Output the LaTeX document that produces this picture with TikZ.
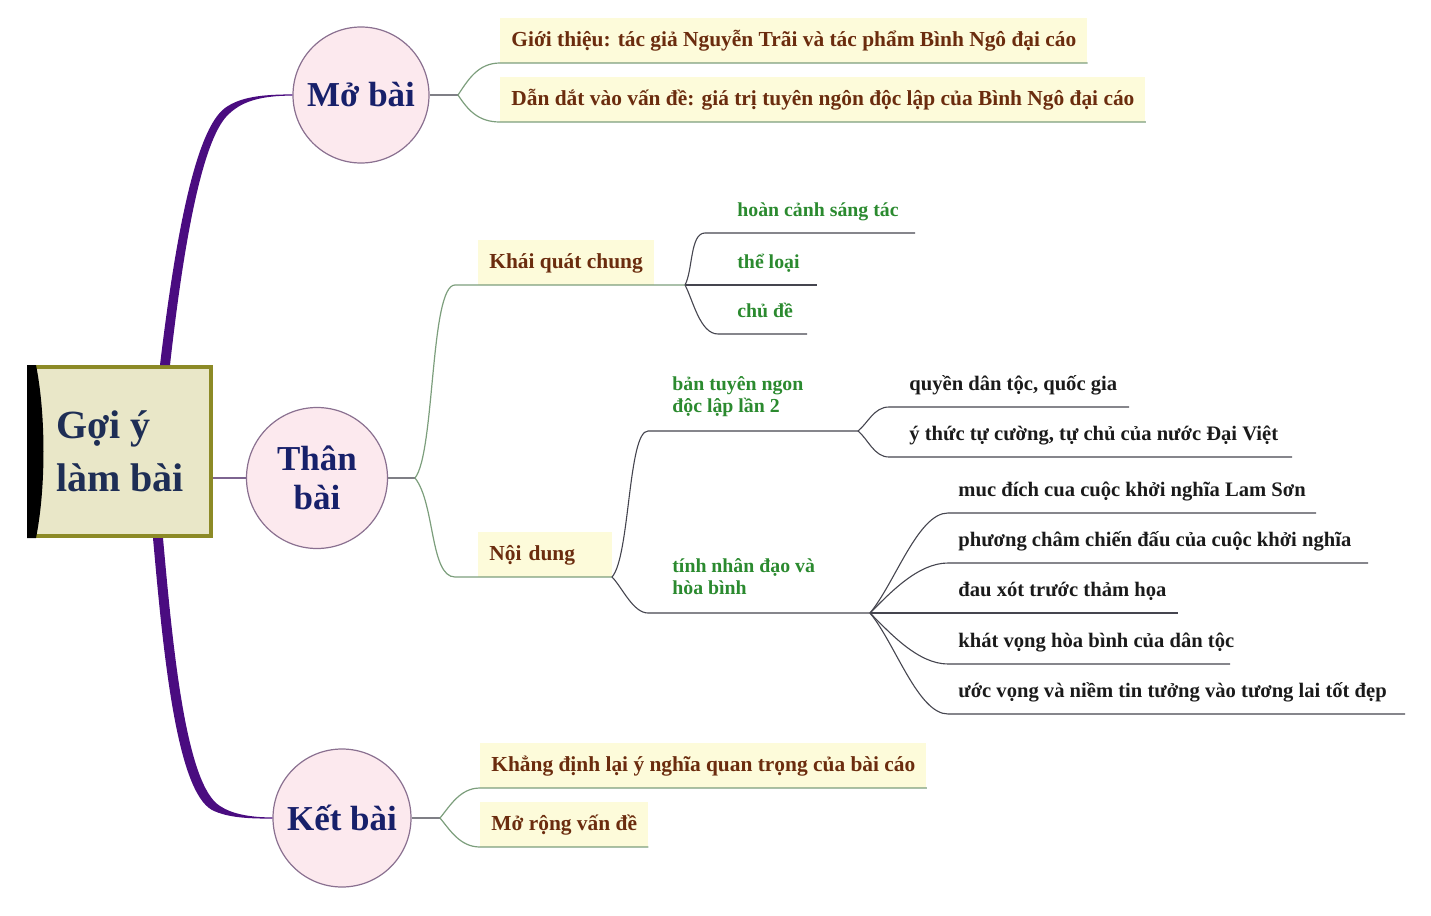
\documentclass[tikz,border=0pt]{standalone}
\usepackage{fontspec}
\setmainfont{Liberation Serif}
\usepackage{tikz}

\definecolor{navy}{HTML}{17206A}
\definecolor{slate}{HTML}{1E2E55}
\definecolor{brownish}{HTML}{6B2C0E}
\definecolor{leafgreen}{HTML}{2B8A2F}
\definecolor{leafblack}{HTML}{1A1A1A}
\definecolor{trunkcol}{HTML}{4A0C80}
\definecolor{pinkfill}{HTML}{FCE9EE}
\definecolor{ringcol}{HTML}{8A7090}
\definecolor{boxfill}{HTML}{FDFBDA}
\definecolor{rootfill}{HTML}{E9E7C8}
\definecolor{rootline}{HTML}{8C8A26}
\definecolor{stubcol}{HTML}{7F7F86}
\definecolor{rootstub}{HTML}{7D6490}
\definecolor{branchcol}{HTML}{7C9E7C}
\definecolor{twigcol}{HTML}{45454F}

\begin{document}
\begin{tikzpicture}
  [x=0.5pt,y=-0.5pt,every node/.style={font=\bfseries}]

  \tikzstyle{part}    = [circle,draw=ringcol,line width=0.6pt,fill=pinkfill,text=navy,align=center,
                         inner sep=0pt,font=\bfseries\fontsize{17.5}{19.5}\selectfont]
  \tikzstyle{gold}    = [anchor=south west,fill=boxfill,inner xsep=5.5pt,inner ysep=0pt,
                         text height=14.5pt,text depth=8pt,text=brownish,
                         font=\bfseries\fontsize{10.7}{12}\selectfont]
  \tikzstyle{leaf}    = [anchor=south west,inner xsep=5pt,inner ysep=0pt,text height=8pt,
                         text depth=8pt,text=leafblack,font=\bfseries\fontsize{10.3}{11}\selectfont]
  \tikzstyle{sprout}  = [leaf,text=leafgreen,font=\bfseries\fontsize{9.9}{11}\selectfont]
  \tikzstyle{sprouts} = [anchor=south west,inner xsep=12pt,inner ysep=5.7pt,align=left,
                         text=leafgreen,font=\bfseries\fontsize{9.9}{11}\selectfont]
  \tikzstyle{stub}    = [draw=stubcol,line width=0.6pt]
  \tikzstyle{branch}  = [draw=branchcol,line width=0.6pt]
  \tikzstyle{twig}    = [draw=twigcol,line width=0.55pt]

  \useasboundingbox (0,0) rectangle (1431,916);

  % centre and the three parts
  \node[draw=rootline,line width=2pt,fill=rootfill,minimum width=91pt,minimum height=84.5pt,
        align=left,text=slate,font=\bfseries\fontsize{20}{26.5}\selectfont]
        (root) at (120,451.5) {Gợi ý\\làm bài};
  \fill (root.north west) -- ([xshift=4.5pt]root.north west)
        .. controls +(5pt,-25pt) and +(5pt,25pt) .. ([xshift=4.5pt]root.south west)
        -- (root.south west) -- cycle;

  \node[part,minimum size=68pt]   (mb) at (361,95)  {Mở bài};
  \node[part,minimum size=70.5pt] (tb) at (317,478) {Thân\\bài};
  \node[part,minimum size=69pt]   (kb) at (342,818) {Kết bài};

  % purple trunk
  \fill[trunkcol] ([xshift=20pt]root.north) .. controls (175,240) and (195,130) .. (225,108)
        .. controls (240,97) and (262,94.4) .. ([yshift=0.3pt]mb.west)
        -- ([yshift=-0.3pt]mb.west) .. controls (262,95.6) and (243,101) .. (230,113)
        .. controls (203,135) and (184,240) .. ([xshift=25pt]root.north) -- cycle;
  \fill[trunkcol] ([xshift=16.5pt]root.south) .. controls (163,650) and (176,790) .. (212,810)
        .. controls (228,818) and (250,818.6) .. ([yshift=-0.3pt]kb.west)
        -- ([yshift=0.3pt]kb.west) .. controls (250,817.4) and (232,814) .. (220,806)
        .. controls (186,785) and (173,650) .. ([xshift=21.5pt]root.south) -- cycle;

  % second level
  \coordinate (mbf) at (458,95);
  \coordinate (tbf) at (415,478);
  \coordinate (kbf) at (440,818);

  \node[gold] (gt) at (500,63)  {Giới thiệu: tác giả Nguyễn Trãi và tác phẩm Bình Ngô đại cáo};
  \node[gold] (dd) at (500,122) {Dẫn dắt vào vấn đề: giá trị tuyên ngôn độc lập của Bình Ngô đại cáo};
  \node[gold] (kq) at (478,285) {Khái quát chung};
  \node[gold,text width=56pt,align=left] (nd) at (478,577) {Nội dung};
  \node[gold] (kd) at (480,788) {Khẳng định lại ý nghĩa quan trọng của bài cáo};
  \node[gold] (mr) at (480,847) {Mở rộng vấn đề};

  % third level
  \coordinate (kqf) at (685,285);
  \coordinate (ndf) at (612,577);

  \node[sprout,inner xsep=16pt]  (hc) at (705,233) {hoàn cảnh sáng tác};
  \node[sprout,inner xsep=16pt]  (tl) at (705,285) {thể loại};
  \node[sprout,inner xsep=9.5pt] (cd) at (718,334) {chủ đề};
  \node[sprouts] (bt) at (648,431) {bản tuyên ngon\\độc lập lần 2\strut};
  \node[sprouts] (tn) at (648,613) {tính nhân đạo và\\hòa bình\strut};

  % fourth level
  \coordinate (btf) at (858,431);
  \coordinate (tnf) at (870,613);

  \node[leaf,inner xsep=10pt] (qd) at (889,407) {quyền dân tộc, quốc gia};
  \node[leaf,inner xsep=10pt] (yt) at (889,457) {ý thức tự cường, tự chủ của nước Đại Việt};
  \node[leaf] (md) at (948,513) {muc đích cua cuộc khởi nghĩa Lam Sơn};
  \node[leaf] (pc) at (948,563) {phương châm chiến đấu của cuộc khởi nghĩa};
  \node[leaf] (dx) at (948,613) {đau xót trước thảm họa};
  \node[leaf] (kv) at (948,664) {khát vọng hòa bình của dân tộc};
  \node[leaf] (uv) at (948,714) {ước vọng và niềm tin tưởng vào tương lai tốt đẹp};

  % connectors
  \draw[stub,draw=rootstub] (tb.west -| root.east) -- (tb.west);
  \draw[stub] (mb.east) -- (mbf)  (tb.east) -- (tbf)  (kb.east) -- (kbf);

  \draw[branch] (mbf) .. controls +(10,-15) and +(-22,0) .. (gt.south west) -- (gt.south east);
  \draw[branch] (mbf) .. controls +(10,15) and +(-22,0) .. (dd.south west) -- (dd.south east);
  \draw[branch] (tbf) .. controls +(20,-25) and +(-25,0) .. ([xshift=-11.5pt]kq.south west) -- (kqf);
  \draw[branch] (tbf) .. controls +(20,25) and +(-25,0) .. ([xshift=-11.5pt]nd.south west) -- (ndf);
  \draw[branch] (kbf) .. controls +(10,-12) and +(-20,0) .. (kd.south west) -- (kd.south east);
  \draw[branch] (kbf) .. controls +(10,12) and +(-20,0) .. (mr.south west) -- (mr.south east);

  \draw[twig] (kqf) .. controls +(8,-15) and +(-15,0) .. (hc.south west) -- +(210,0);
  \draw[twig] (kqf) -- (tl.south west) -- +(112,0);
  \draw[twig] (kqf) .. controls +(8,15) and +(-18,0) .. (cd.south west) -- +(89,0);
  \draw[twig] (ndf) .. controls +(18,-20) and +(-20,0) .. (bt.south west) -- (btf);
  \draw[twig] (ndf) .. controls +(10,10) and +(-15,0) .. (tn.south west) -- (tnf);

  \draw[twig] (btf) .. controls +(10,-8) and +(-15,0) .. (qd.south west) -- +(240,0);
  \draw[twig] (btf) .. controls +(10,8) and +(-15,0) .. (yt.south west) -- +(403,0);
  \draw[twig] (tnf) .. controls +(25,-30) and +(-30,0) .. (md.south west) -- +(368,0);
  \draw[twig] (tnf) .. controls +(20,-20) and +(-30,0) .. (pc.south west) -- +(420,0);
  \draw[twig] (tnf) -- (dx.south west) -- +(230,0);
  \draw[twig] (tnf) .. controls +(20,20) and +(-30,0) .. (kv.south west) -- +(282,0);
  \draw[twig] (tnf) .. controls +(25,30) and +(-30,0) .. (uv.south west) -- +(457,0);
\end{tikzpicture}
\end{document}
